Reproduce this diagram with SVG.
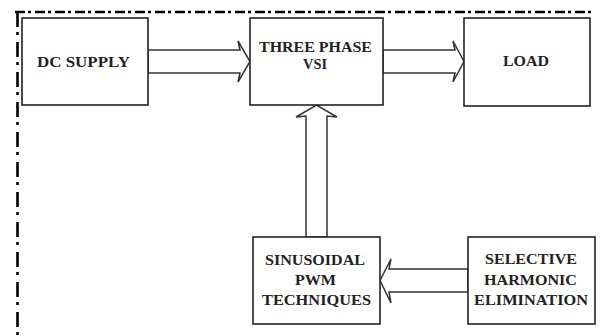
<svg xmlns="http://www.w3.org/2000/svg" width="600" height="336" viewBox="0 0 600 336">
<style>
.box{fill:#fff;stroke:#222;stroke-width:1.6}
.arr{fill:#fff;stroke:#333;stroke-width:1.5;stroke-linejoin:miter}
.t{font-family:"Liberation Serif","Times New Roman",serif;font-weight:bold;font-size:14px;fill:#222;text-anchor:middle}
.border{fill:none;stroke:#000;stroke-width:2.6}
</style>
<rect width="600" height="336" fill="#fff"/>
<g id="border">
<line class="border" x1="15" y1="12" x2="594" y2="12" stroke-dasharray="10 3 3 4"/>
<line class="border" x1="17.5" y1="12" x2="17.5" y2="336" stroke-dasharray="15 5 3 7"/>
</g>
<g id="connectors">
<polygon class="arr" points="148,50 240,50 238,41 250,61.5 238,82 240,73 148,73"/>
<polygon class="arr" points="383,50 455,50 453,41 464,61.5 453,82 455,73 383,73"/>
<polygon class="arr" points="306,237 306,116 296,117 316.5,105 337,117 327,116 327,237"/>
<polygon class="arr" points="468,269 389,269 391,259 380,280.5 391,303 389,292 468,292"/>
</g>
<g id="dc">
<rect class="box" x="22" y="18" width="126" height="87"/>
<text class="t" x="83.5" y="67" textLength="93" lengthAdjust="spacingAndGlyphs">DC SUPPLY</text>
</g>
<g id="vsi">
<rect class="box" x="250" y="18" width="133" height="87"/>
<text class="t" x="315.5" y="52" textLength="113" lengthAdjust="spacingAndGlyphs">THREE PHASE</text>
<text class="t" x="315" y="69" textLength="24" lengthAdjust="spacingAndGlyphs">VSI</text>
</g>
<g id="load">
<rect class="box" x="464" y="18" width="126" height="88"/>
<text class="t" x="526" y="66" textLength="46" lengthAdjust="spacingAndGlyphs">LOAD</text>
</g>
<g id="spwm">
<rect class="box" x="253" y="237" width="127" height="87"/>
<text class="t" x="315" y="265" textLength="100" lengthAdjust="spacingAndGlyphs">SINUSOIDAL</text>
<text class="t" x="315.5" y="285" textLength="41" lengthAdjust="spacingAndGlyphs">PWM</text>
<text class="t" x="316.5" y="305" textLength="109" lengthAdjust="spacingAndGlyphs">TECHNIQUES</text>
</g>
<g id="she">
<rect class="box" x="468" y="237" width="127" height="87"/>
<text class="t" x="531" y="264" textLength="92" lengthAdjust="spacingAndGlyphs">SELECTIVE</text>
<text class="t" x="530.5" y="285" textLength="93" lengthAdjust="spacingAndGlyphs">HARMONIC</text>
<text class="t" x="531" y="305" textLength="114" lengthAdjust="spacingAndGlyphs">ELIMINATION</text>
</g>
</svg>
